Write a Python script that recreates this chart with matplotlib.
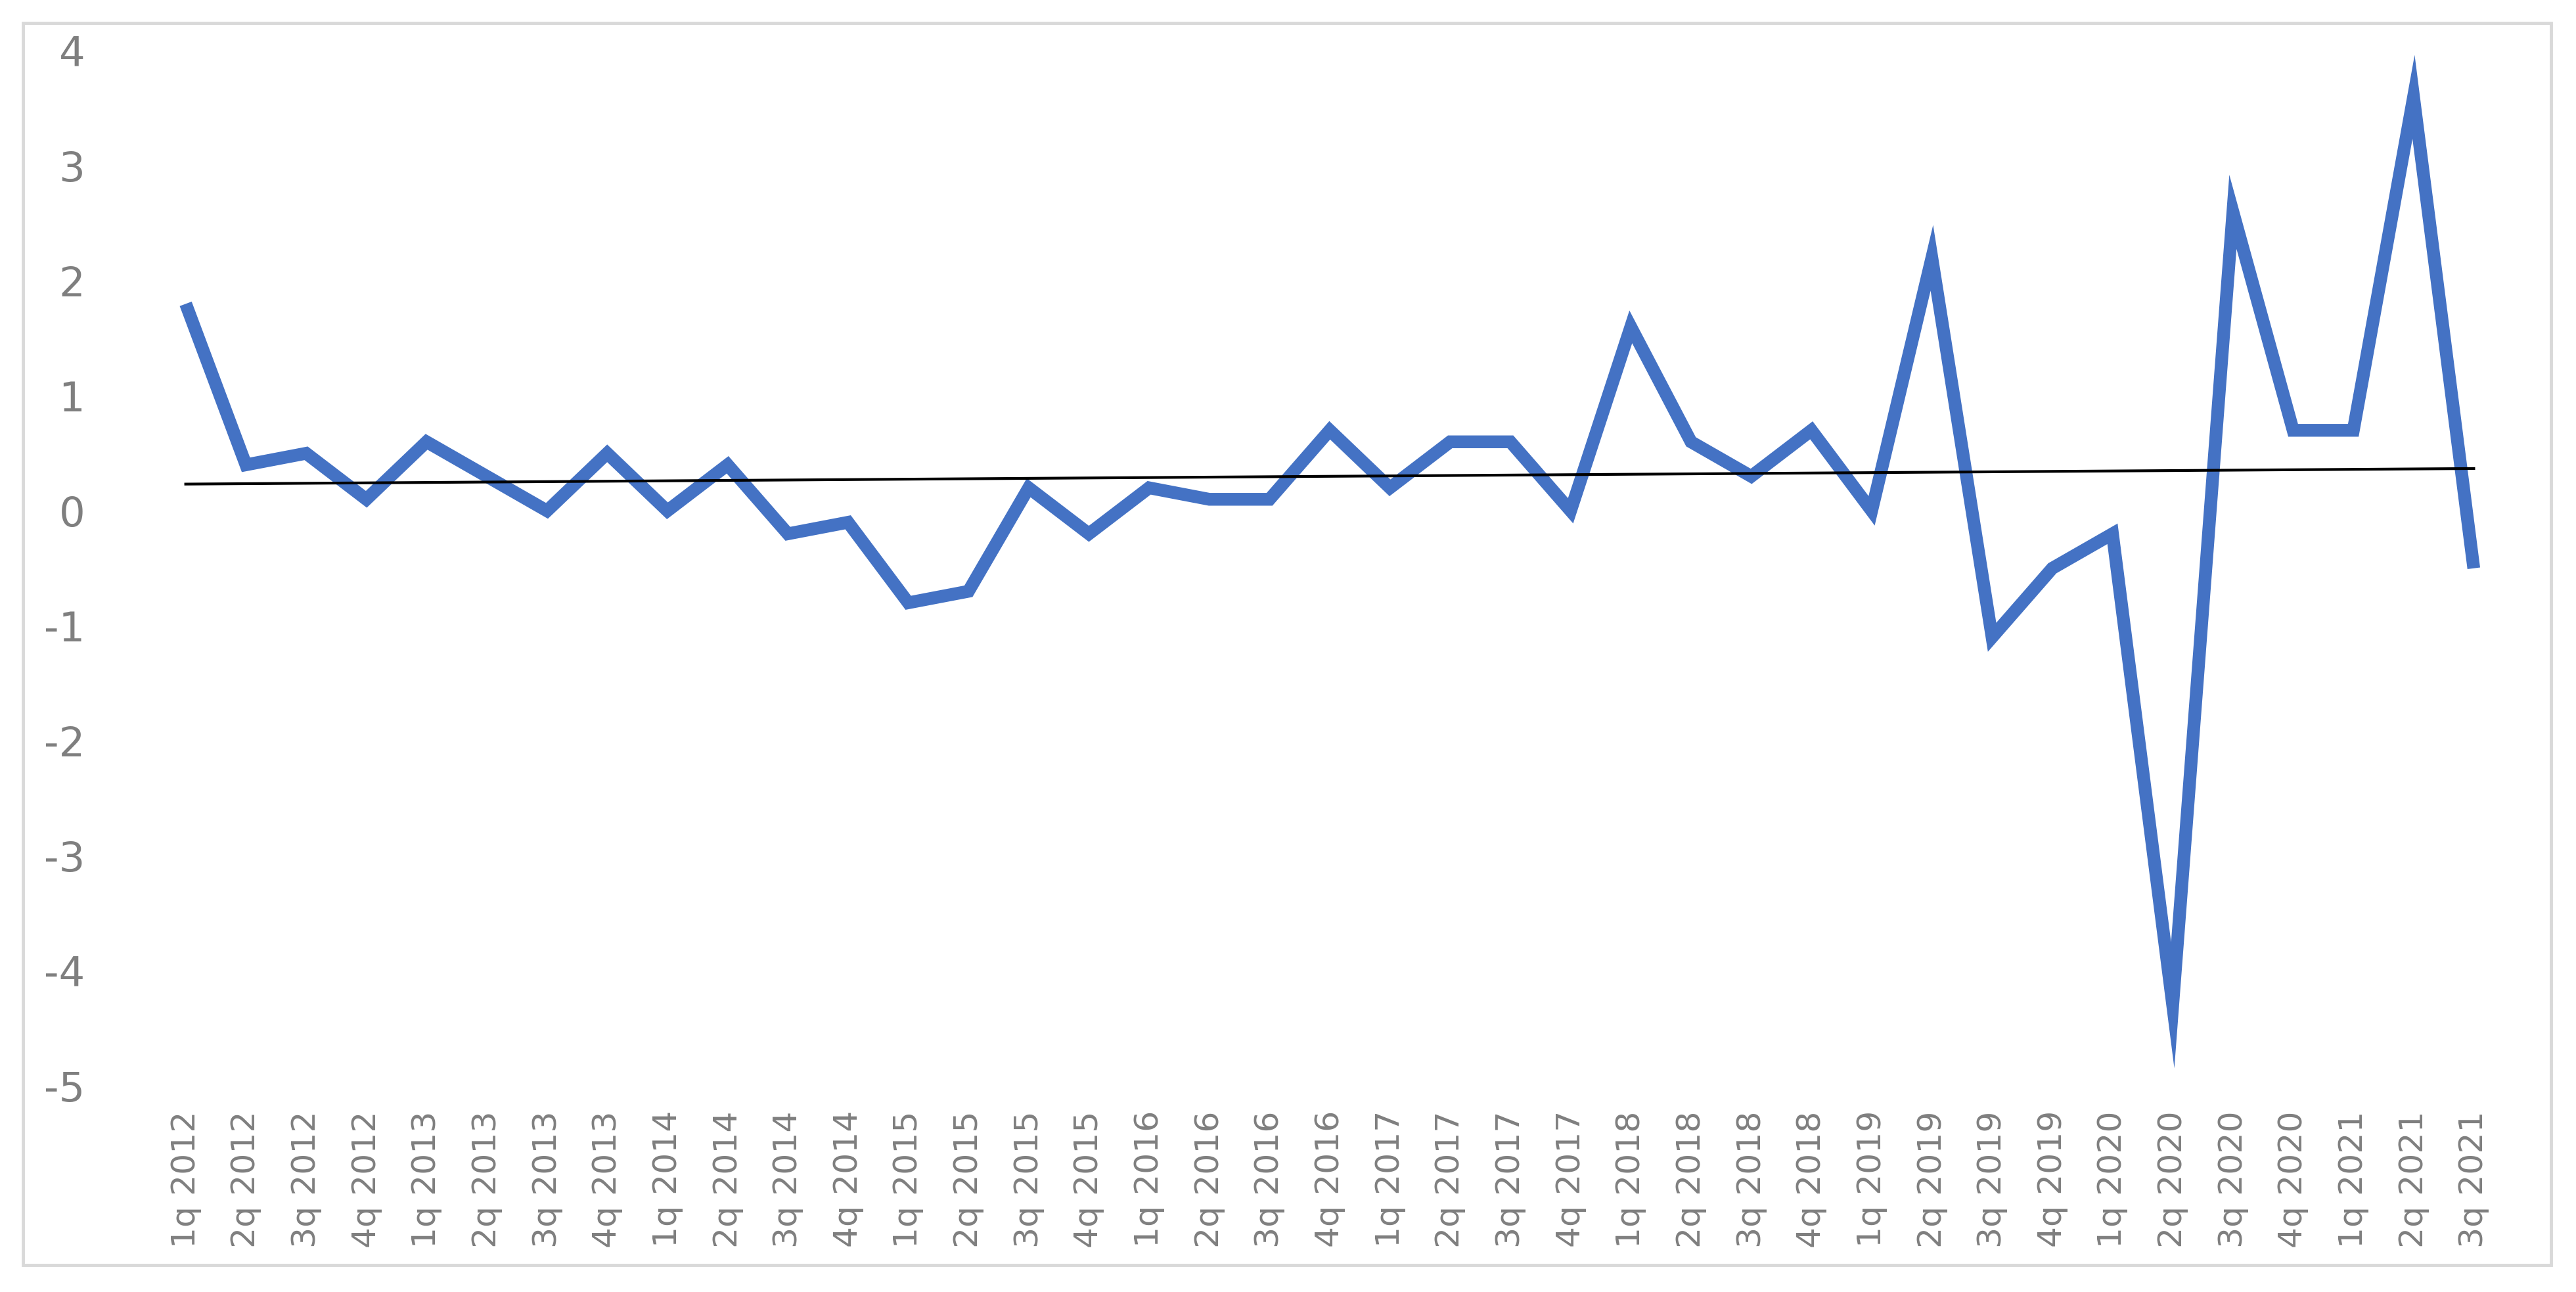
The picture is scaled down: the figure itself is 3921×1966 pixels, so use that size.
"""Quarterly series 2012-2021 with a linear trend line."""

import matplotlib.pyplot as plt
import numpy as np
from matplotlib.patches import Rectangle

quarters = [
    "1q 2012", "2q 2012", "3q 2012", "4q 2012",
    "1q 2013", "2q 2013", "3q 2013", "4q 2013",
    "1q 2014", "2q 2014", "3q 2014", "4q 2014",
    "1q 2015", "2q 2015", "3q 2015", "4q 2015",
    "1q 2016", "2q 2016", "3q 2016", "4q 2016",
    "1q 2017", "2q 2017", "3q 2017", "4q 2017",
    "1q 2018", "2q 2018", "3q 2018", "4q 2018",
    "1q 2019", "2q 2019", "3q 2019", "4q 2019",
    "1q 2020", "2q 2020", "3q 2020", "4q 2020",
    "1q 2021", "2q 2021", "3q 2021",
]
values = [
    1.8, 0.4, 0.5, 0.1,
    0.6, 0.3, 0.0, 0.5,
    0.0, 0.4, -0.2, -0.1,
    -0.8, -0.7, 0.2, -0.2,
    0.2, 0.1, 0.1, 0.7,
    0.2, 0.6, 0.6, 0.0,
    1.6, 0.6, 0.3, 0.7,
    0.0, 2.2, -1.1, -0.5,
    -0.2, -4.3, 2.6, 0.7,
    0.7, 3.6, -0.5,
]
y_ticks = [4, 3, 2, 1, 0, -1, -2, -3, -4, -5]

LINE_BLUE = "#4472C4"
LABEL_GREY = "#7F7F7F"

x = np.arange(len(quarters))
y = np.array(values)

# Excel-style linear trend line over the category index.
slope, intercept = np.polyfit(x + 1, y, 1)
trend = slope * (x + 1) + intercept

fig = plt.figure(figsize=(15.684, 7.864), dpi=250)
ax = fig.add_axes([0.0604, 0.1597, 0.9116, 0.8009])

ax.plot(x, y, color=LINE_BLUE, linewidth=5.6,
        solid_joinstyle="miter", solid_capstyle="butt", zorder=2)
ax.plot(x, trend, color="black", linewidth=1.2, zorder=3)

ax.set_xlim(-0.5, len(quarters) - 0.5)
ax.set_ylim(-5, 4)
ax.set_yticks(y_ticks)
ax.set_yticklabels([str(t) for t in y_ticks], family="DejaVu Sans",
                   fontsize=18, color=LABEL_GREY)
ax.set_xticks(x)
ax.set_xticklabels(quarters, rotation=90, family="DejaVu Sans",
                   fontsize=14.5, color=LABEL_GREY)
ax.tick_params(axis="y", length=0, pad=31)
ax.tick_params(axis="x", length=0, pad=11)
for spine in ax.spines.values():
    spine.set_visible(False)

# light grey chart border
fig.patches.append(Rectangle((35 / 3921, 41 / 1966), 3848 / 3921, 1890 / 1966,
                             transform=fig.transFigure, fill=False,
                             edgecolor="#D9D9D9", linewidth=1.4))

fig.savefig("out.png", dpi=250, facecolor="white")
plt.close(fig)
